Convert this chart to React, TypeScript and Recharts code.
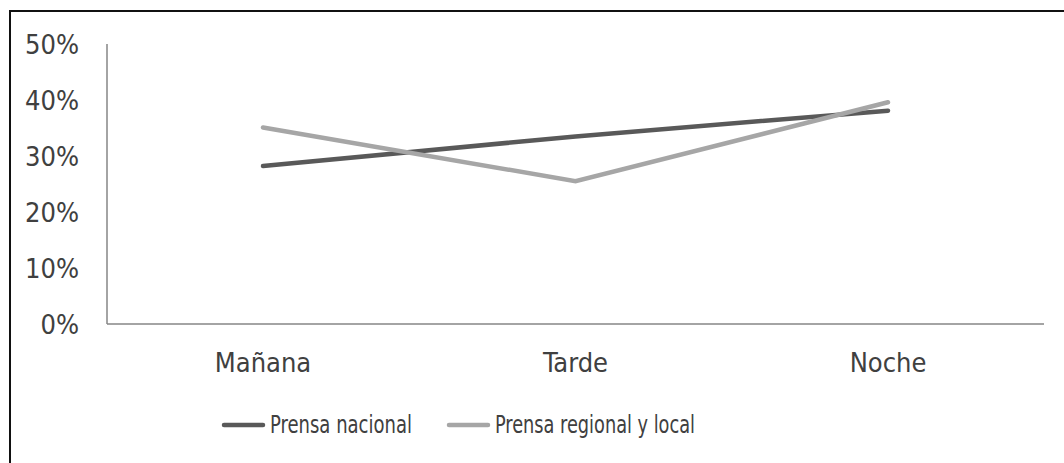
import React from "react";
import { LineChart, Line, XAxis, YAxis, Legend } from "recharts";

const categories = ["Mañana", "Tarde", "Noche"];
const prensaNacional = [28.2, 33.5, 38.1];
const prensaRegional = [35.1, 25.5, 39.6];
const yTicks = [0, 10, 20, 30, 40, 50];

const data = categories.map((c, i) => ({
  name: c,
  nacional: prensaNacional[i],
  regional: prensaRegional[i],
}));

const FONT = '"Liberation Sans Narrow", "DejaVu Sans Condensed", "Open Sans", sans-serif';
const TEXT = "#404040";

const legendPos: Record<string, { line: number; text: number; len: number }> = {
  nacional: { line: 222, text: 270, len: 142 },
  regional: { line: 447, text: 495, len: 200 },
};

const renderLegend = (props: any) => {
  const payload = props.payload || [];
  return (
    <svg width={1064} height={50} style={{ display: "block" }}>
      {payload.map((p: any) => {
        const pos = legendPos[p.dataKey];
        if (!pos) return null;
        return (
          <g key={p.dataKey}>
            <line
              x1={pos.line + 2}
              x2={pos.line + 41}
              y1={25}
              y2={25}
              stroke={p.color}
              strokeWidth={4.5}
              strokeLinecap="round"
            />
            <text
              x={pos.text}
              y={33}
              fontFamily={FONT}
              fontSize={24}
              fill={TEXT}
              textLength={pos.len}
              lengthAdjust="spacingAndGlyphs"
            >
              {p.value}
            </text>
          </g>
        );
      })}
    </svg>
  );
};

export default function App() {
  return (
    <div
      style={{
        position: "fixed",
        left: 0,
        top: 0,
        width: 1064,
        height: 463,
        overflow: "hidden",
        background: "#fff",
      }}
    >
      <div
        style={{
          position: "absolute",
          left: 9,
          top: 10,
          width: 1200,
          height: 600,
          border: "2px solid #111",
          boxSizing: "border-box",
        }}
      />
      <div style={{ position: "absolute", left: 0, top: 0 }}>
        <LineChart
          width={1064}
          height={463}
          data={data}
          margin={{ top: 44, right: 20, left: 0, bottom: 29 }}
        >
          <XAxis
            dataKey="name"
            padding={{ left: 156, right: 156 }}
            axisLine={{ stroke: "#868686", strokeWidth: 1.5 }}
            tickLine={false}
            tickSize={0}
            tickMargin={29}
            height={60}
            interval={0}
            tick={{ fontFamily: FONT, fontSize: 27, fill: TEXT }}
          />
          <YAxis
            domain={[0, 50]}
            ticks={yTicks}
            interval={0}
            width={107}
            axisLine={{ stroke: "#868686", strokeWidth: 1.5 }}
            tickLine={false}
            tickSize={0}
            tickMargin={28}
            tickFormatter={(v: number) => `${v}%`}
            tick={{ fontFamily: FONT, fontSize: 27, fill: TEXT }}
          />
          <Legend
            content={renderLegend}
            wrapperStyle={{ position: "absolute", top: 400, left: 0, width: 1064, height: 50 }}
          />
          <Line
            dataKey="nacional"
            name="Prensa nacional"
            stroke="#595959"
            strokeWidth={4.5}
            strokeLinecap="round"
            dot={false}
            activeDot={false}
            isAnimationActive={false}
          />
          <Line
            dataKey="regional"
            name="Prensa regional y local"
            stroke="#A6A6A6"
            strokeWidth={4.5}
            strokeLinecap="round"
            dot={false}
            activeDot={false}
            isAnimationActive={false}
          />
        </LineChart>
      </div>
    </div>
  );
}
